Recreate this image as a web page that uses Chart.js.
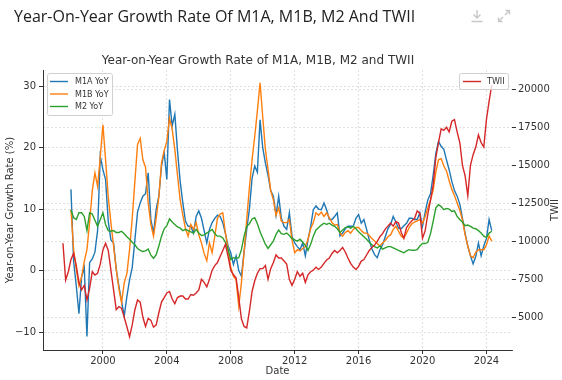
<!DOCTYPE html>
<html>
<head>
<meta charset="utf-8">
<script src="https://cdn.jsdelivr.net/npm/chart.js@4.4.0/dist/chart.umd.min.js"></script>
<style>
  html, body { margin: 0; padding: 0; background: #fff; }
  #quadro { position: relative; width: 562px; height: 380px; overflow: hidden; }
  #grafico { position: absolute; left: 0; top: 0; }
  #cabecalho { position: absolute; left: 14px; top: 5px; font-family: "Open Sans", sans-serif; font-size: 16px; color: #222; white-space: nowrap; }
  .icone { position: absolute; top: 9px; }
</style>
</head>
<body>
<div id="quadro">
  <canvas id="grafico" width="562" height="380"></canvas>
  <div id="cabecalho">Year-On-Year Growth Rate Of M1A, M1B, M2 And TWII</div>
  <svg class="icone" style="left:470px" width="14" height="14" viewBox="0 0 14 14"><path d="M7 1v8M3.5 5.5L7 9l3.5-3.5M1.5 12.5h11" stroke="#c8c8c8" stroke-width="1.4" fill="none"/></svg>
  <svg class="icone" style="left:497px" width="14" height="14" viewBox="0 0 14 14"><path d="M8.5 1.5h4v4M12.5 1.5L8 6M5.5 12.5h-4v-4M1.5 12.5L6 8" stroke="#c8c8c8" stroke-width="1.4" fill="none"/></svg>
</div>
<script>
// primeiro ponto: julho de 1997, um ponto a cada 2 meses
const anoInicio = 1997;
const mesInicio = 7;
const passoMeses = 2;

const m1a = [
  null, null, null,
  13.2, 1.5, -2.5, -7.0, -1.0, 0.5,
  -10.7, 1.3, 1.9, 3.0, 6.5, 18.6,
  16.4, 14.8, 8.0, 5.0, 4.5, 0.2,
  -2.5, -5.0, -7.4, -4.2, -1.5, 0.5,
  5.0, 9.5, 11.0, 12.1, 12.5, 15.9,
  8.3, 6.1, 10.0, 12.1, 17.0, 19.2,
  14.8, 27.8, 23.5, 25.4, 19.5, 14.5,
  11.0, 8.0, 7.2, 7.2, 6.1, 8.8,
  9.7, 8.5, 6.5, 4.5, 6.7, 7.8,
  8.5, 9.0, 8.8, 7.8, 6.0, 4.0,
  2.9, 1.0, 2.4, 0.0, -0.9, 3.0,
  6.7, 10.0, 15.0, 17.0, 16.0, 24.5,
  20.0, 17.5, 15.5, 13.0, 12.1, 9.0,
  12.1, 8.5, 7.2, 6.7, 9.4, 5.6,
  4.5, 3.9, 3.4, 4.5, 2.4, 5.0,
  7.2, 9.9, 10.5, 10.0, 9.9, 11.0,
  9.9, 8.3, 8.3, 8.8, 9.4, 5.6,
  6.1, 6.8, 7.2, 7.2, 7.2, 8.5,
  9.1, 7.7, 8.3, 6.7, 5.0, 3.5,
  2.6, 2.1, 3.4, 4.2, 5.5, 6.8,
  7.5, 8.8, 7.9, 6.9, 6.8, 7.3,
  7.7, 8.5, 8.5, 8.3, 8.3, 9.4,
  7.2, 9.5, 11.5, 12.5, 15.5, 19.0,
  21.0, 20.2, 19.7, 18.0, 16.4, 14.5,
  13.0, 12.1, 10.8, 8.5, 6.0, 4.0,
  2.4, 1.1, 2.3, 4.5, 2.4, 4.0,
  5.2, 8.3, 6.5
];

const m1b = [
  null, null, null,
  9.9, 3.4, 0.2, -2.5, -1.0, 1.5,
  3.4, 7.8, 13.0, 15.9, 13.7, 18.5,
  23.7, 18.0, 12.0, 7.8, 4.0, 0.2,
  -3.0, -5.2, -2.0, -0.5, 3.4, 8.5,
  14.5, 20.5, 21.5, 18.0, 16.8, 11.0,
  7.5, 5.6, 8.5, 12.0, 17.5, 19.5,
  21.0, 24.8, 23.0, 19.7, 15.5, 11.5,
  9.0, 6.8, 5.6, 7.5, 6.7, 7.8,
  5.8, 4.5, 2.8, 1.6, 4.5, 2.9,
  5.6, 8.5, 9.2, 9.4, 6.1, 3.4,
  0.5, -0.9, -1.5, -5.8, -2.0, 3.0,
  8.3, 13.5, 18.0, 21.8, 26.0, 30.5,
  25.0, 19.7, 16.5, 13.0, 11.5, 9.0,
  10.2, 8.0, 7.8, 7.8, 8.3, 5.0,
  2.9, 3.4, 3.2, 3.6, 3.9, 5.1,
  6.8, 7.8, 9.4, 9.0, 9.5, 8.8,
  9.4, 8.6, 7.8, 7.4, 7.5, 6.1,
  5.6, 6.2, 6.5, 6.1, 6.7, 7.0,
  7.0, 6.5, 6.1, 6.1, 5.7, 5.2,
  4.8, 4.4, 4.0, 4.5, 4.9, 5.5,
  5.8, 6.7, 7.2, 6.4, 5.6, 5.3,
  6.1, 7.0, 7.6, 7.9, 8.1, 8.3,
  7.7, 8.8, 10.2, 11.5, 13.1, 16.0,
  18.0, 18.2, 17.0, 16.2, 14.6, 13.2,
  12.2, 11.0, 9.8, 8.2, 5.8, 4.0,
  2.4, 2.1, 3.0, 3.4, 3.4, 3.4,
  4.2, 5.6, 4.8
];

const m2 = [
  null, null, null,
  9.9, 8.6, 8.3, 9.4, 9.4, 8.8,
  6.5, 9.4, 9.2, 8.2, 7.2, 8.3,
  9.4, 7.5, 6.5, 6.4, 6.5, 6.2,
  6.2, 6.4, 6.0, 5.5, 5.1, 4.6,
  4.2, 3.6, 3.3, 3.1, 3.2, 3.5,
  2.5, 2.0, 2.6, 4.0, 5.6, 6.8,
  7.3, 8.4, 7.9, 7.5, 7.1, 6.9,
  6.5, 6.7, 6.5, 6.3, 6.1, 6.7,
  6.1, 5.7, 5.8, 6.1, 6.4, 6.7,
  6.0, 5.6, 5.6, 5.3, 4.6, 3.4,
  1.8, 2.1, 2.0, 2.1, 3.4, 5.6,
  7.2, 7.6, 8.4, 8.6, 7.6, 6.3,
  5.3, 4.3, 3.6, 4.2, 4.8, 5.9,
  6.6, 6.0, 5.9, 6.1, 5.7, 5.2,
  5.0, 4.8, 5.1, 4.6, 4.1, 3.3,
  4.3, 5.6, 6.6, 7.0, 7.4, 7.7,
  7.5, 7.7, 7.4, 7.2, 6.8, 6.2,
  6.6, 7.0, 7.1, 6.9, 7.2, 6.8,
  6.3, 5.9, 5.5, 5.1, 4.6, 4.2,
  3.9, 3.7, 4.0, 3.5, 3.7, 3.9,
  3.9, 3.7, 3.5, 3.3, 3.1, 2.9,
  3.2, 3.4, 3.3, 3.3, 3.4, 4.0,
  4.4, 4.4, 4.6, 6.0, 8.0, 10.2,
  10.7, 10.4, 9.9, 10.1, 10.0, 9.6,
  9.7, 8.8, 8.3, 7.9, 7.3, 7.4,
  7.2, 6.9, 6.8, 6.5, 6.1, 5.6,
  5.4, 6.1, 6.4
];

const twii = [
  9870, 7450, 8000,
  8800, 9210, 8400, 7300, 6800, 7100,
  6140, 6900, 8000, 7780, 7890, 8500,
  9430, 9870, 9400, 8100, 6800, 5500,
  5700, 5600, 5000, 4380, 3720, 4500,
  5500, 6140, 6000, 5000, 4400, 4930,
  4800, 4350, 4500, 5300, 6000, 6300,
  6600, 6700, 6200, 5900, 6300, 6400,
  6400, 6200, 6200, 6500, 6450, 6600,
  6800, 7500, 7300, 7000, 7500, 8100,
  8400, 8600, 9000, 9400, 9800, 9000,
  8100, 7800, 7600, 6300, 4900, 4400,
  4300, 5400, 6700, 7400, 7900, 8200,
  8200, 8400, 7500, 8200, 8600, 9100,
  8900, 8900, 8700, 8500, 7500, 7100,
  7500, 8000, 7700, 7900, 7300, 7800,
  8000, 8100, 8300, 8150, 8300, 8550,
  8770, 8900, 9200, 9400, 9250, 9400,
  9600, 9300, 8900, 8550, 8300, 8150,
  8350, 8700, 8800, 9100, 9400, 9600,
  9750, 10000, 10300, 10500, 10800, 11000,
  11200, 11000, 11300, 11200, 10600, 10200,
  10900, 11150, 11350, 11500, 12000, 11850,
  10200, 10700, 11800, 12700, 13700, 15500,
  16500, 17400, 17300, 17500, 17200, 17900,
  18000, 17200, 16500, 15000, 14300, 13000,
  15000, 15700, 16200, 17000, 16500, 16200,
  18000, 19200, 20300
];

const ticksAnos = [2000, 2004, 2008, 2012, 2016, 2020, 2024];
const ticksTaxa = [-10, 0, 10, 20, 30];
const ticksTwii = [5000, 7500, 10000, 12500, 15000, 17500, 20000];

const tituloGrafico = 'Year-on-Year Growth Rate of M1A, M1B, M2 and TWII';

// eixo x em anos decimais
const datas = twii.map((_, i) => anoInicio + (mesInicio - 1) / 12 + i * passoMeses / 12);
const pontos = serie => serie.map((v, i) => ({ x: datas[i], y: v }));

const fonteTick = { family: 'DejaVu Sans', size: 10 };
const corTexto = '#333';
const corGrade = 'rgba(0,0,0,0.16)';

function formatarNumero(v) {
  return v < 0 ? '\u2212' + Math.abs(v) : String(v);
}

function desenharLegenda(ctx, caixa, itens) {
  ctx.save();
  ctx.beginPath();
  ctx.roundRect(caixa.x + 0.5, caixa.y + 0.5, caixa.w, caixa.h, 2);
  ctx.fillStyle = 'rgba(255,255,255,0.8)';
  ctx.fill();
  ctx.strokeStyle = '#d0d0d0';
  ctx.lineWidth = 1;
  ctx.stroke();
  ctx.font = '8px "DejaVu Sans"';
  ctx.textAlign = 'left';
  ctx.textBaseline = 'middle';
  itens.forEach(item => {
    ctx.beginPath();
    ctx.moveTo(caixa.linhaX0, item.y);
    ctx.lineTo(caixa.linhaX1, item.y);
    ctx.strokeStyle = item.cor;
    ctx.lineWidth = 1.4;
    ctx.stroke();
    ctx.fillStyle = corTexto;
    ctx.fillText(item.texto, caixa.textoX, item.y + 0.5);
  });
  ctx.restore();
}

const textosExtras = {
  id: 'textosExtras',
  afterDraw(chart) {
    const ctx = chart.ctx;
    const area = chart.chartArea;
    ctx.save();
    ctx.fillStyle = corTexto;
    ctx.textAlign = 'center';
    ctx.textBaseline = 'middle';

    ctx.font = '12px "DejaVu Sans"';
    ctx.fillText(tituloGrafico, 258, 61);

    ctx.font = '10px "DejaVu Sans"';
    ctx.fillText('Date', (area.left + area.right) / 2, 371);

    ctx.save();
    ctx.translate(10, (area.top + area.bottom) / 2);
    ctx.rotate(-Math.PI / 2);
    ctx.fillText('Year-on-Year Growth Rate (%)', 0, 0);
    ctx.restore();

    ctx.save();
    ctx.translate(555, (area.top + area.bottom) / 2);
    ctx.rotate(-Math.PI / 2);
    ctx.fillText('TWII', 0, 0);
    ctx.restore();
    ctx.restore();

    desenharLegenda(ctx, { x: 47, y: 73, w: 65, h: 42, linhaX0: 50, linhaX1: 68, textoX: 75 }, [
      { texto: 'M1A YoY', cor: '#1f77b4', y: 81.5 },
      { texto: 'M1B YoY', cor: '#ff7f0e', y: 94 },
      { texto: 'M2 YoY', cor: '#2ca02c', y: 106.5 }
    ]);
    desenharLegenda(ctx, { x: 459, y: 73, w: 49, h: 16, linhaX0: 463, linhaX1: 481, textoX: 487 }, [
      { texto: 'TWII', cor: '#d62728', y: 81.5 }
    ]);
  }
};

const ctx = document.getElementById('grafico').getContext('2d');
const grafico = new Chart(ctx, {
  type: 'line',
  data: {
    datasets: [
      { label: 'M1A YoY', data: pontos(m1a), borderColor: '#1f77b4', yAxisID: 'y', order: 4 },
      { label: 'M1B YoY', data: pontos(m1b), borderColor: '#ff7f0e', yAxisID: 'y', order: 3 },
      { label: 'M2 YoY', data: pontos(m2), borderColor: '#2ca02c', yAxisID: 'y', order: 2 },
      { label: 'TWII', data: pontos(twii), borderColor: '#d62728', yAxisID: 'y1', order: 1 }
    ]
  },
  options: {
    responsive: false,
    animation: false,
    devicePixelRatio: 1,
    layout: { padding: { top: 70, left: 0, right: 0, bottom: 0 } },
    elements: {
      point: { radius: 0 },
      line: { borderWidth: 1.4, tension: 0, fill: false }
    },
    plugins: {
      legend: { display: false },
      title: { display: false },
      tooltip: { enabled: false }
    },
    scales: {
      x: {
        type: 'linear',
        min: 1996.25,
        max: 2025.6,
        afterBuildTicks: s => { s.ticks = ticksAnos.map(v => ({ value: v })); },
        afterFit: s => { s.height = 30; },
        ticks: { font: fonteTick, color: corTexto, padding: 1, maxRotation: 0, callback: v => String(v) },
        grid: { color: corGrade, lineWidth: 0.8, tickColor: '#333', tickLength: 4, tickWidth: 1, tickBorderDash: [] },
        border: { color: '#333', width: 1, dash: [2, 2] }
      },
      y: {
        position: 'left',
        min: -12.9,
        max: 32.6,
        afterBuildTicks: s => { s.ticks = ticksTaxa.map(v => ({ value: v })); },
        afterFit: s => { s.width = 43; },
        ticks: { font: fonteTick, color: corTexto, padding: 3, callback: v => formatarNumero(v) },
        grid: { color: corGrade, lineWidth: 0.8, tickColor: '#333', tickLength: 4, tickWidth: 1, tickBorderDash: [] },
        border: { color: '#333', width: 1, dash: [2, 2] }
      },
      y1: {
        position: 'right',
        min: 2849,
        max: 21270,
        afterBuildTicks: s => { s.ticks = ticksTwii.map(v => ({ value: v })); },
        afterFit: s => { s.width = 50; },
        ticks: { font: fonteTick, color: corTexto, padding: 2, callback: v => String(v) },
        grid: { color: corGrade, lineWidth: 0.8, tickColor: '#333', tickLength: 4, tickWidth: 1, tickBorderDash: [] },
        border: { display: false, dash: [2, 2] }
      }
    }
  },
  plugins: [textosExtras]
});
</script>
</body>
</html>
